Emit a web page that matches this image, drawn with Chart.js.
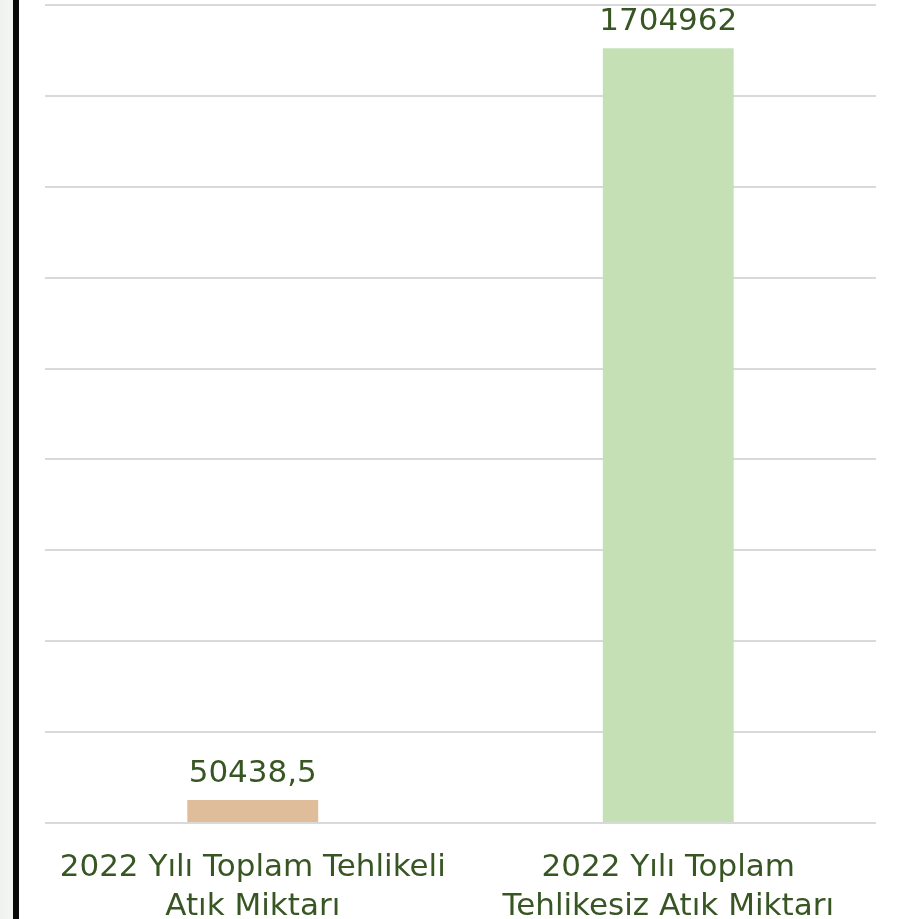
<!DOCTYPE html>
<html>
<head>
<meta charset="utf-8">
<script src="https://cdn.jsdelivr.net/npm/chart.js@4"></script>
<style>
  html, body { margin: 0; padding: 0; background: #ffffff; }
  #wrap { position: relative; width: 899px; height: 919px; overflow: hidden;
          background: linear-gradient(to right, #eef2ec 0px, #f4f6f2 13px, #ffffff 13px); }
  #leftbar { position: absolute; left: 13px; top: 0; width: 6px; height: 919px; background: #0a0a0a; }
  #box { position: absolute; left: 0; top: 0; width: 899px; height: 919px; }
</style>
</head>
<body>
<div id="wrap">
  <div id="leftbar"></div>
  <div id="box"><canvas id="c"></canvas></div>
</div>
<script>
const categories = [
  ["2022 Yılı Toplam Tehlikeli", "Atık Miktarı"],
  ["2022 Yılı Toplam", "Tehlikesiz Atık Miktarı"]
];
const values = [50438.5, 1704962];
const barColors = ["#DFBD9B", "#C5E0B4"];
const yMin = 0, yMax = 1800000, yStep = 200000;

const textColor = "#375623";
const fontSpec = { family: "DejaVu Sans", size: 31, lineHeight: 39 / 31 };

const valueLabels = {
  id: "valueLabels",
  afterDatasetsDraw(chart) {
    const ctx = chart.ctx;
    const meta = chart.getDatasetMeta(0);
    ctx.save();
    ctx.font = fontSpec.size + "px '" + fontSpec.family + "'";
    ctx.fillStyle = textColor;
    ctx.textAlign = "center";
    ctx.textBaseline = "alphabetic";
    meta.data.forEach((bar, i) => {
      const v = chart.data.datasets[0].data[i];
      ctx.fillText(String(v).replace(".", ","), bar.x, bar.y - 18);
    });
    ctx.restore();
  }
};

new Chart(document.getElementById("c"), {
  type: "bar",
  data: {
    labels: categories,
    datasets: [{
      data: values,
      backgroundColor: barColors,
      borderWidth: 0,
      categoryPercentage: 1,
      barPercentage: 0.315
    }]
  },
  options: {
    responsive: true,
    maintainAspectRatio: false,
    animation: false,
    layout: { padding: { left: 0, right: 23, top: 5, bottom: 0 } },
    plugins: { legend: { display: false }, tooltip: { enabled: false } },
    scales: {
      x: {
        grid: { display: false },
        border: { display: false },
        ticks: { color: textColor, font: fontSpec, padding: 17, maxRotation: 0, autoSkip: false },
        afterFit(scale) { scale.height = 96; }
      },
      y: {
        min: yMin, max: yMax,
        grid: { color: "#d9d9d9", lineWidth: 2, drawTicks: false },
        border: { display: false },
        ticks: { display: false, stepSize: yStep },
        afterFit(scale) { scale.width = 45; }
      }
    }
  },
  plugins: [valueLabels]
});
</script>
</body>
</html>
